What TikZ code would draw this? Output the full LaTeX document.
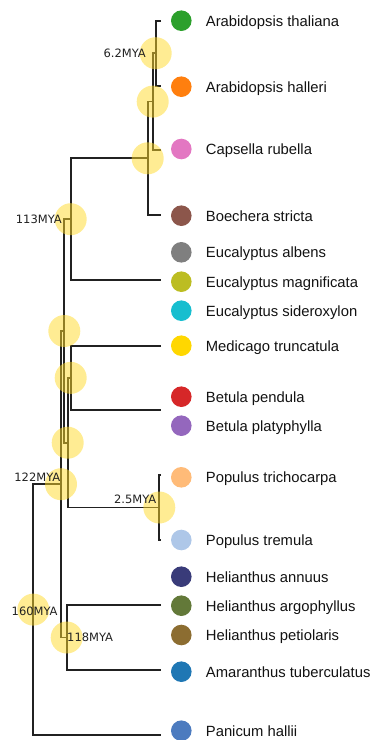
\documentclass[tikz,border=0pt]{standalone}
\usepackage{fontspec}
\setmainfont{Liberation Sans}
\newfontfamily\myafont{DejaVu Sans}
\definecolor{haloc}{RGB}{255,218,40}
\definecolor{cAT}{HTML}{2CA02C}
\definecolor{cAH}{HTML}{FF7F0E}
\definecolor{cCap}{HTML}{E377C2}
\definecolor{cBoe}{HTML}{8C564B}
\definecolor{cEal}{HTML}{7F7F7F}
\definecolor{cEma}{HTML}{BCBD22}
\definecolor{cEsi}{HTML}{17BECF}
\definecolor{cMed}{HTML}{FFD700}
\definecolor{cBpe}{HTML}{D62728}
\definecolor{cBpl}{HTML}{9467BD}
\definecolor{cPtr}{HTML}{FFBB78}
\definecolor{cPtm}{HTML}{AEC7E8}
\definecolor{cHan}{HTML}{393B79}
\definecolor{cHar}{HTML}{637939}
\definecolor{cHpe}{HTML}{8C6D31}
\definecolor{cAma}{HTML}{1F77B4}
\definecolor{cPan}{HTML}{4C7BBF}
\begin{document}
\begin{tikzpicture}[x=1pt,y=-1pt,
  branch/.style={draw=black!87, line width=1.7pt, line join=miter},
  halo/.style={circle, fill=haloc, fill opacity=0.5, minimum size=32pt, inner sep=0pt},
  leafdot/.style={circle, minimum size=20.6pt, inner sep=0pt},
  leaflabel/.style={anchor=base west, inner sep=0pt, font=\fontsize{14.8}{16}\selectfont, text=black!93},
  mya/.style={inner sep=0pt, font=\myafont\fontsize{11.5}{13}\selectfont, text=black!87}]
\useasboundingbox (0,0) rectangle (375,740);
% branch tips
\coordinate (tAT) at (161,20.7);
\coordinate (tAH) at (161,85.7);
\coordinate (tCap) at (161,150);
\coordinate (tBoe) at (161,215);
\coordinate (tEuc) at (161,280);
\coordinate (tMed) at (161,345.7);
\coordinate (tBet) at (161,410);
\coordinate (tPT) at (161,475);
\coordinate (tPTr) at (161,540);
\coordinate (tHel) at (161,605);
\coordinate (tAma) at (161,670);
\coordinate (tPan) at (161,735);
% internal nodes
\coordinate (n62) at (155.7,53.2);
\coordinate (n2) at (152.7,101.6);
\coordinate (n3) at (147.7,158.3);
\coordinate (n113) at (70.7,219.2);
\coordinate (nMB) at (70.7,377.85);
\coordinate (nPop) at (159.3,507.5);
\coordinate (nMBP) at (67.7,442.7);
\coordinate (nA) at (64.3,331);
\coordinate (n118) at (66.7,637.5);
\coordinate (n122) at (61,484.2);
\coordinate (n160) at (33.3,609.6);
% branches
\draw[branch] (tAT) -| (n62) |- (tAH);
\draw[branch] (n62) -| (n2) |- (tCap);
\draw[branch] (n2) -| (n3) |- (tBoe);
\draw[branch] (n3) -| (n113) |- (tEuc);
\draw[branch] (tMed) -| (nMB) |- (tBet);
\draw[branch] (tPT) -| (nPop) |- (tPTr);
\draw[branch] (nMB) -| (nMBP) |- (nPop);
\draw[branch] (n113) -| (nA) |- (nMBP);
\draw[branch] (tHel) -| (n118) |- (tAma);
\draw[branch] (nA) -| (n122) |- (n118);
\draw[branch] (n122) -| (n160) |- (tPan);
% halos
\foreach \n in {n62,n2,n3,n113,nMB,nPop,nMBP,nA,n118,n122,n160}
  \node[halo] (h\n) at (\n) {};
% age labels
\node[mya, anchor=base east] (l62) at (146,57) {6.2MYA};
\node[mya, anchor=base east] (l113) at (62,223.5) {113MYA};
\node[mya, anchor=base east] (l122) at (60.5,481.2) {122MYA};
\node[mya, anchor=base east] (l25) at (156.5,503.2) {2.5MYA};
\node[mya, anchor=base west] (l160) at (11.5,615.9) {160MYA};
\node[mya, anchor=base west] (l118) at (67,641.9) {118MYA};
% leaves
\foreach \id/\y/\c/\t in {
  AT/20.7/cAT/Arabidopsis thaliana,
  AH/86.7/cAH/Arabidopsis halleri,
  Cap/149/cCap/Capsella rubella,
  Boe/215.7/cBoe/Boechera stricta,
  Eal/252.3/cEal/Eucalyptus albens,
  Ema/281.7/cEma/Eucalyptus magnificata,
  Esi/310.7/cEsi/Eucalyptus sideroxylon,
  Med/345.7/cMed/Medicago truncatula,
  Bpe/396.7/cBpe/Betula pendula,
  Bpl/425.7/cBpl/Betula platyphylla,
  Ptr/477.3/cPtr/Populus trichocarpa,
  Ptm/540/cPtm/Populus tremula,
  Han/576.7/cHan/Helianthus annuus,
  Har/605.7/cHar/Helianthus argophyllus,
  Hpe/635/cHpe/Helianthus petiolaris,
  Ama/671.7/cAma/Amaranthus tuberculatus,
  Pan/730.7/cPan/Panicum hallii}
{
  \node[leafdot, fill=\c] (d\id) at (181.3,\y) {};
  \node[leaflabel] (l\id) at (205.7,\y+5.5) {\t};
}
\end{tikzpicture}
\end{document}
